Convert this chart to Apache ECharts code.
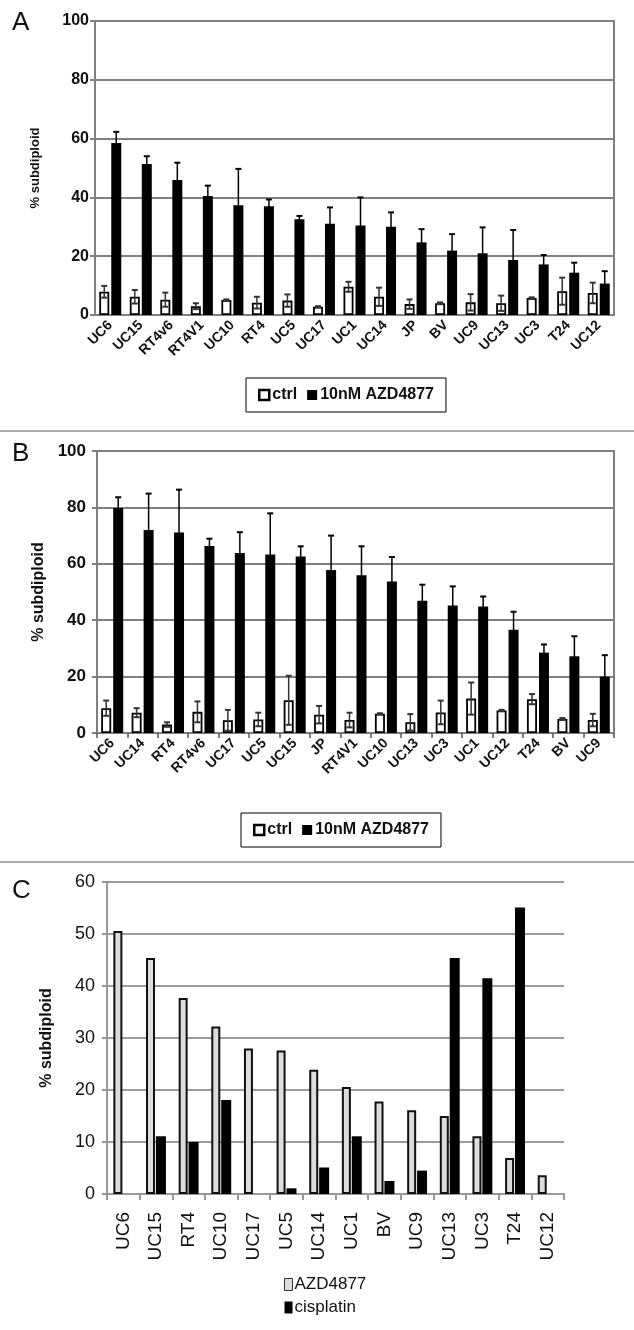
<!DOCTYPE html>
<html>
<head>
<meta charset="utf-8">
<script src="https://cdn.jsdelivr.net/npm/echarts@6/dist/echarts.min.js"></script>
<style>
html,body{margin:0;padding:0;background:#fff;}
#chart{width:634px;height:1330px;}
</style>
</head>
<body>
<div id="chart"></div>
<script>
// ---------- Panel A ----------
const catsA = ['UC6','UC15','RT4v6','RT4V1','UC10','RT4','UC5','UC17','UC1','UC14','JP','BV','UC9','UC13','UC3','T24','UC12'];
const ctrlA   = [7.9, 6.2, 5.2, 3.0, 5.1, 4.2, 4.9, 2.8, 9.6, 6.2, 3.7, 4.0, 4.3, 4.0, 5.8, 8.1, 7.5];
const ctrlASd = [2.0, 2.3, 2.4, 1.0, 0.2, 2.0, 2.1, 0.2, 1.7, 3.1, 1.6, 0.3, 2.8, 2.6, 0.2, 4.6, 3.5];
const azdA    = [58.5, 51.4, 45.9, 40.5, 37.3, 37.0, 32.6, 31.0, 30.4, 30.0, 24.7, 21.9, 21.0, 18.7, 17.2, 14.4, 10.7];
const azdASd  = [3.8, 2.6, 5.9, 3.5, 12.4, 2.3, 1.1, 5.6, 9.6, 4.9, 4.5, 5.6, 8.8, 10.2, 3.2, 3.4, 4.2];
const ticksA = [0, 20, 40, 60, 80, 100];

// ---------- Panel B ----------
const catsB = ['UC6','UC14','RT4','RT4v6','UC17','UC5','UC15','JP','RT4V1','UC10','UC13','UC3','UC1','UC12','T24','BV','UC9'];
const ctrlB   = [8.8, 7.2, 3.0, 7.5, 4.5, 4.8, 11.6, 6.5, 4.6, 6.8, 3.8, 7.3, 12.2, 8.0, 12.0, 5.0, 4.6];
const ctrlBSd = [2.7, 1.6, 0.8, 3.7, 3.7, 2.4, 8.7, 3.1, 2.6, 0.2, 2.9, 4.2, 5.7, 0.2, 1.8, 0.3, 2.2];
const azdB    = [79.8, 72.0, 71.1, 66.3, 63.8, 63.3, 62.6, 57.8, 55.9, 53.7, 46.9, 45.2, 44.9, 36.6, 28.5, 27.2, 20.0];
const azdBSd  = [3.8, 12.9, 15.2, 2.6, 7.4, 14.6, 3.6, 12.2, 10.3, 8.7, 5.7, 6.8, 3.5, 6.4, 2.9, 7.1, 7.6];
const ticksB = [0, 20, 40, 60, 80, 100];

// ---------- Panel C ----------
const catsC = ['UC6','UC15','RT4','UC10','UC17','UC5','UC14','UC1','BV','UC9','UC13','UC3','T24','UC12'];
const azdC = [50.6, 45.4, 37.7, 32.2, 28.0, 27.6, 23.9, 20.6, 17.8, 16.1, 15.0, 11.1, 6.9, 3.6];
const cisC = [0, 11.1, 10.0, 18.1, 0, 1.1, 5.1, 11.1, 2.5, 4.5, 45.4, 41.5, 55.1, 0];
const ticksC = [0, 10, 20, 30, 40, 50, 60];

const FONT = 'Liberation Sans, Arial, sans-serif';

function errSeries(xi, vals, sds, offset, color) {
  return {
    type: 'custom', xAxisIndex: xi, yAxisIndex: xi, z: 5, silent: true,
    data: vals.map((v, i) => [i, v, sds[i]]),
    encode: {x: 0, y: 1},
    renderItem: function (params, api) {
      const i = api.value(0), v = api.value(1), sd = api.value(2);
      const top = api.coord([i, v + sd]);
      const bot = api.coord([i, Math.max(0, v - sd)]);
      const x = top[0] + offset, hw = 3;
      return {type: 'group', children: [
        {type: 'line', shape: {x1: x, y1: top[1], x2: x, y2: bot[1]}, style: {stroke: color, lineWidth: 1.5}},
        {type: 'line', shape: {x1: x - hw, y1: top[1], x2: x + hw, y2: top[1]}, style: {stroke: color, lineWidth: 2}},
        {type: 'line', shape: {x1: x - hw, y1: bot[1], x2: x + hw, y2: bot[1]}, style: {stroke: color, lineWidth: 2}}
      ]};
    }
  };
}

function yAxisAB(ticks, fs, margin, nameGap, nameFs) {
  return {
    type: 'value', min: ticks[0], max: ticks[ticks.length - 1], interval: ticks[1] - ticks[0],
    axisLine: {show: true, lineStyle: {color: '#808080', width: 2}},
    axisTick: {show: true, length: 5, lineStyle: {color: '#808080', width: 2}},
    axisLabel: {fontFamily: FONT, fontSize: fs, fontWeight: 'bold', color: '#111', margin: margin},
    splitLine: {lineStyle: {color: '#808080', width: 2}},
    name: '% subdiploid', nameLocation: 'middle', nameGap: nameGap,
    nameTextStyle: {fontFamily: FONT, fontSize: nameFs, fontWeight: 'bold', color: '#111'}
  };
}

function xAxisAB(cats, gi, ticks, fs) {
  return {
    type: 'category', data: cats, gridIndex: gi,
    axisLine: {show: true, lineStyle: {color: '#808080', width: 2}},
    axisTick: {show: ticks, length: 5, lineStyle: {color: '#555', width: 1.5}},
    axisLabel: {interval: 0, rotate: 45, fontFamily: FONT, fontSize: fs, fontWeight: 'bold', color: '#111', margin: 8}
  };
}

const ctrlStyle = {color: '#fff', borderColor: '#000', borderWidth: 1.8};
const azdStyle = {color: '#000'};

const legendAB = (top, left) => ({
  top: top, left: left, orient: 'horizontal',
  borderColor: '#000', borderWidth: 1, padding: [9, 12], itemGap: 10,
  itemWidth: 10, itemHeight: 10,
  textStyle: {fontFamily: FONT, fontSize: 16, fontWeight: 'bold', color: '#111', padding: [0, 0, 0, -2]},
  data: [
    {name: 'ctrl', icon: 'rect', itemStyle: {color: '#fff', borderColor: '#000', borderWidth: 2.5}},
    {name: '10nM AZD4877', icon: 'rect', itemStyle: {color: '#000'}}
  ]
});

const option = {
  animation: false,
  backgroundColor: '#fff',
  grid: [
    {left: 95, right: 20, top: 21, height: 294, show: true, borderColor: '#808080', borderWidth: 2},
    {left: 97, right: 20, top: 451, height: 282, show: true, borderColor: '#808080', borderWidth: 2},
    {left: 107, right: 70, top: 882, height: 312}
  ],
  xAxis: [
    xAxisAB(catsA, 0, false, 14),
    xAxisAB(catsB, 1, true, 14),
    {
      type: 'category', data: catsC, gridIndex: 2,
      axisLine: {show: true, lineStyle: {color: '#999', width: 2}},
      axisTick: {show: true, length: 6, lineStyle: {color: '#999', width: 2}},
      axisLabel: {interval: 0, rotate: 90, fontFamily: FONT, fontSize: 19, color: '#111', margin: 18}
    }
  ],
  yAxis: [
    Object.assign(yAxisAB(ticksA, 16, 6, 53, 13), {gridIndex: 0}),
    Object.assign(yAxisAB(ticksB, 17, 11, 46, 16), {gridIndex: 1}),
    {
      gridIndex: 2, type: 'value', min: ticksC[0], max: ticksC[ticksC.length - 1], interval: ticksC[1] - ticksC[0],
      axisLine: {show: true, lineStyle: {color: '#999', width: 2}},
      axisTick: {show: true, length: 5, lineStyle: {color: '#999', width: 2}},
      axisLabel: {fontFamily: FONT, fontSize: 18, color: '#111', margin: 12},
      splitLine: {lineStyle: {color: '#9a9a9a', width: 2}},
      name: '% subdiploid', nameLocation: 'middle', nameGap: 52,
      nameTextStyle: {fontFamily: FONT, fontSize: 16, fontWeight: 'bold', color: '#111'}
    }
  ],
  legend: [
    legendAB(378, 246),
    legendAB(813, 241),
    {
      top: 1271, left: 279, orient: 'vertical', itemGap: 6, itemWidth: 8, itemHeight: 12,
      textStyle: {fontFamily: FONT, fontSize: 17, color: '#111', padding: [0, 0, 0, -3]},
      data: [
        {name: 'AZD4877', icon: 'rect', itemStyle: {color: '#ddd', borderColor: '#333', borderWidth: 1}},
        {name: 'cisplatin', icon: 'rect', itemStyle: {color: '#000'}}
      ]
    }
  ],
  graphic: [
    {type: 'line', shape: {x1: 0, y1: 431, x2: 634, y2: 431}, style: {stroke: '#aaa', lineWidth: 2}},
    {type: 'line', shape: {x1: 0, y1: 862, x2: 634, y2: 862}, style: {stroke: '#aaa', lineWidth: 2}},
    {type: 'text', left: 12, top: 10, style: {text: 'A', fontFamily: FONT, fontSize: 26, fill: '#111'}},
    {type: 'text', left: 12, top: 441, style: {text: 'B', fontFamily: FONT, fontSize: 26, fill: '#111'}},
    {type: 'text', left: 12, top: 878, style: {text: 'C', fontFamily: FONT, fontSize: 26, fill: '#111'}}
  ],
  series: [
    {name: 'ctrl', type: 'bar', xAxisIndex: 0, yAxisIndex: 0, data: ctrlA, barWidth: 10, barGap: '20%', itemStyle: ctrlStyle},
    {name: '10nM AZD4877', type: 'bar', xAxisIndex: 0, yAxisIndex: 0, data: azdA, barWidth: 10, itemStyle: azdStyle},
    errSeries(0, ctrlA, ctrlASd, -6, '#333'),
    errSeries(0, azdA, azdASd, 6, '#000'),

    {name: 'ctrl', type: 'bar', xAxisIndex: 1, yAxisIndex: 1, data: ctrlB, barWidth: 10, barGap: '20%', itemStyle: ctrlStyle},
    {name: '10nM AZD4877', type: 'bar', xAxisIndex: 1, yAxisIndex: 1, data: azdB, barWidth: 10, itemStyle: azdStyle},
    errSeries(1, ctrlB, ctrlBSd, -6, '#333'),
    errSeries(1, azdB, azdBSd, 6, '#000'),

    {name: 'AZD4877', type: 'bar', xAxisIndex: 2, yAxisIndex: 2, data: azdC, barWidth: 9, barGap: '10%',
     itemStyle: {color: '#dcdcdc', borderColor: '#111', borderWidth: 2}},
    {name: 'cisplatin', type: 'bar', xAxisIndex: 2, yAxisIndex: 2, data: cisC, barWidth: 10,
     itemStyle: {color: '#000'}}
  ]
};

const chart = echarts.init(document.getElementById('chart'), null, {renderer: 'canvas'});
chart.setOption(option);
</script>
</body>
</html>
